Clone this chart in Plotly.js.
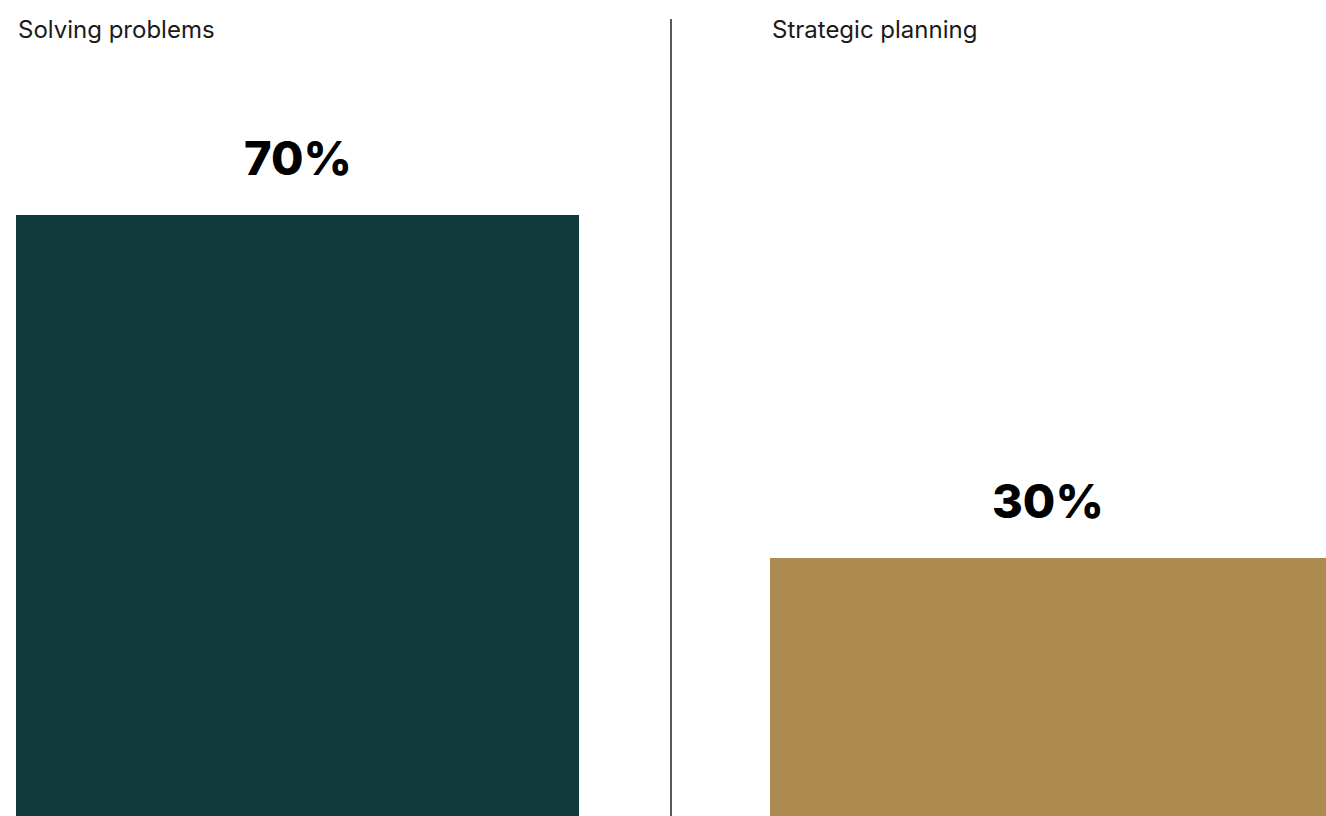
<!DOCTYPE html>
<html>
<head>
<meta charset="utf-8">
<script src="https://cdn.plot.ly/plotly-3.0.1.min.js"></script>
<style>
  html, body { margin: 0; padding: 0; background: #ffffff; }
  #chart { width: 1326px; height: 816px; }
</style>
</head>
<body>
<div id="chart"></div>
<script>
// Share of respondents by activity
const categories = ["Solving problems", "Strategic planning"];
const values = [70, 30];
const valueLabels = ["70%", "30%"];
const barColors = ["#10393b", "#ad8a50"];

const yMax = 95;

const traces = categories.map((cat, i) => ({
  type: "bar",
  x: [cat],
  y: [values[i]],
  width: [1],
  marker: { color: barColors[i], line: { width: 0 } },
  xaxis: i === 0 ? "x" : "x2",
  yaxis: i === 0 ? "y" : "y2",
  hoverinfo: "skip",
  showlegend: false
}));

// Value labels sit above each bar
const valueAnnotations = categories.map((cat, i) => ({
  xref: i === 0 ? "x" : "x2",
  yref: i === 0 ? "y" : "y2",
  x: cat,
  y: values[i],
  text: valueLabels[i],
  showarrow: false,
  xanchor: "center",
  yanchor: "bottom",
  yshift: 27,
  font: { family: "Inter, Lato, sans-serif", size: 47, weight: 800, color: "#000000" }
}));

// Panel headings in the top-left corner of each panel
const headingX = [16 / 1326, 770 / 1326];
const headingAnnotations = categories.map((cat, i) => ({
  xref: "paper",
  yref: "paper",
  x: headingX[i],
  y: 1,
  xanchor: "left",
  yanchor: "top",
  yshift: -13,
  text: cat,
  showarrow: false,
  font: { family: "Inter, Lato, sans-serif", size: 24, color: "#1a1a1a" }
}));

const hiddenX = {
  showgrid: false, zeroline: false, showticklabels: false, showline: false,
  ticks: "", fixedrange: true
};
const hiddenY = {
  range: [0, yMax], showgrid: false, zeroline: false, showticklabels: false,
  showline: false, ticks: "", fixedrange: true
};

const layout = {
  width: 1326,
  height: 816,
  margin: { l: 0, r: 0, t: 0, b: 0, pad: 0 },
  paper_bgcolor: "#ffffff",
  plot_bgcolor: "#ffffff",
  bargap: 0,
  xaxis: Object.assign({ domain: [16 / 1326, 579 / 1326], anchor: "y" }, hiddenX),
  yaxis: Object.assign({ domain: [0, 1], anchor: "x" }, hiddenY),
  xaxis2: Object.assign({ domain: [770 / 1326, 1], anchor: "y2" }, hiddenX),
  yaxis2: Object.assign({ domain: [0, 1], anchor: "x2" }, hiddenY),
  annotations: valueAnnotations.concat(headingAnnotations),
  shapes: [{
    type: "line",
    xref: "paper",
    yref: "paper",
    x0: 671 / 1326, x1: 671 / 1326,
    y0: 0, y1: (816 - 19) / 816,
    line: { color: "#5a5a5a", width: 2 }
  }]
};

Plotly.newPlot("chart", traces, layout, { displayModeBar: false, staticPlot: true });
</script>
</body>
</html>
